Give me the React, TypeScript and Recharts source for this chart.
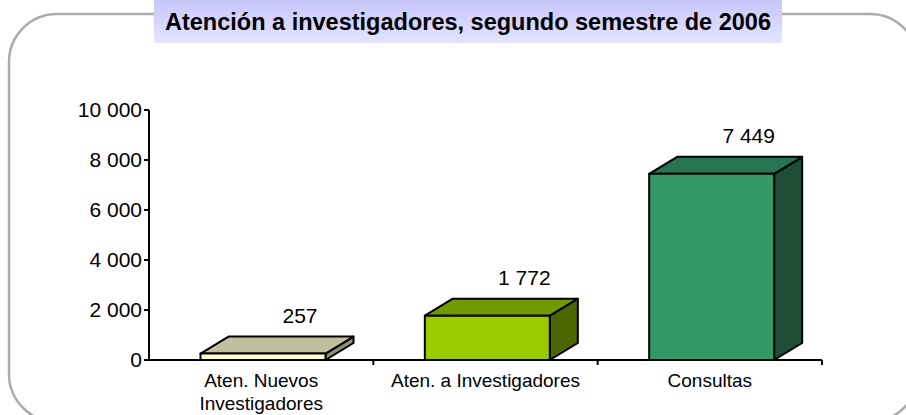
import { BarChart, Bar, XAxis, YAxis, Cell, LabelList } from "recharts";

const categories = ["Aten. Nuevos\nInvestigadores", "Aten. a Investigadores", "Consultas"];
const values = [257, 1772, 7449];
const yTicks = [0, 2000, 4000, 6000, 8000, 10000];

const title = "Atención a investigadores, segundo semestre de 2006";

// front / top / side colours of each box
const frontColors = ["#FFFFCC", "#99CC00", "#339966"];
const topColors = ["#C0C09E", "#729900", "#277552"];
const sideColors = ["#8E8E74", "#4C6600", "#1E4E36"];

const data = categories.map((name, i) => ({ name, value: values[i] }));

const W = 906;
const H = 415;
const DX = 28; // depth of the 3D boxes
const DY = 17;
const SHIFT = 1.5;
const FONT = "'Liberation Sans', Arial, sans-serif";

// space as thousands separator
const fmt = (v: number) => String(v).replace(/\B(?=(\d{3})+(?!\d))/g, " ");

const Box3D = (props: any) => {
  const { y, width, height, index } = props;
  const x = props.x + SHIFT;
  const r = x + width;
  const b = y + height;
  return (
    <g stroke="#000" strokeWidth={2} strokeLinejoin="round">
      <polygon
        points={`${r},${y} ${r + DX},${y - DY} ${r + DX},${b - DY} ${r},${b}`}
        fill={sideColors[index]}
      />
      <polygon
        points={`${x},${y} ${x + DX},${y - DY} ${r + DX},${y - DY} ${r},${y}`}
        fill={topColors[index]}
      />
      <rect x={x} y={y} width={width} height={height} fill={frontColors[index]} />
    </g>
  );
};

const ValueLabel = (props: any) => {
  const { x, y, width, value } = props;
  return (
    <text
      x={x + SHIFT + width / 2 + 37}
      y={y - 38}
      dy="0.35em"
      textAnchor="middle"
      fontSize={21}
      fontFamily={FONT}
      fill="#000"
    >
      {fmt(value)}
    </text>
  );
};

const CategoryTick = (props: any) => {
  const { x, y, payload } = props;
  const band = (W - 149 - 84) / categories.length;
  const lines = String(payload.value).split("\n");
  const axisY = y - 5;
  return (
    <g>
      <line x1={x + band / 2} y1={axisY} x2={x + band / 2} y2={axisY + 5} stroke="#000" strokeWidth={2} />
      <text textAnchor="middle" fontSize={19} fontFamily={FONT} fill="#000">
        {lines.map((l, i) => (
          <tspan key={i} x={x} y={axisY + 27 + i * 23}>
            {l}
          </tspan>
        ))}
      </text>
    </g>
  );
};

export default function App() {
  return (
    <div style={{ position: "absolute", left: 0, top: 0, width: W, height: H, overflow: "hidden", background: "#fff" }}>
      <svg width={W} height={H} style={{ position: "absolute", left: 0, top: 0 }}>
        <defs>
          <linearGradient id="titleBg" x1="0" y1="0" x2="0" y2="1">
            <stop offset="0%" stopColor="#C6C6FA" />
            <stop offset="100%" stopColor="#E4E4FF" />
          </linearGradient>
        </defs>
        <rect x={9} y={14} width={909} height={408} rx={48} ry={48} fill="none" stroke="#ABABAB" strokeWidth={2.5} />
        <rect x={154} y={0} width={628} height={43} fill="url(#titleBg)" />
        <text x={468} y={30} textAnchor="middle" fontSize={23.5} fontWeight="bold" fontFamily={FONT} fill="#000">
          {title}
        </text>
      </svg>
      <div style={{ position: "absolute", left: 0, top: 0 }}>
        <BarChart width={W} height={H} data={data} margin={{ top: 110, right: 84, left: 69, bottom: 5 }}>
          <XAxis
            dataKey="name"
            height={50}
            axisLine={{ stroke: "#000", strokeWidth: 2 }}
            tickLine={false}
            tickSize={5}
            tickMargin={0}
            interval={0}
            tick={<CategoryTick />}
          />
          <YAxis
            width={80}
            domain={[0, 10000]}
            ticks={yTicks}
            tickFormatter={fmt}
            axisLine={{ stroke: "#000", strokeWidth: 2 }}
            tickLine={{ stroke: "#000", strokeWidth: 2 }}
            tickSize={5}
            tickMargin={2}
            tick={{ fontSize: 21, fontFamily: FONT, fill: "#000" }}
          />
          <Bar dataKey="value" barSize={125} shape={<Box3D />} isAnimationActive={false}>
            {data.map((_, i) => (
              <Cell key={i} fill={frontColors[i]} />
            ))}
            <LabelList dataKey="value" content={<ValueLabel />} />
          </Bar>
        </BarChart>
      </div>
    </div>
  );
}
